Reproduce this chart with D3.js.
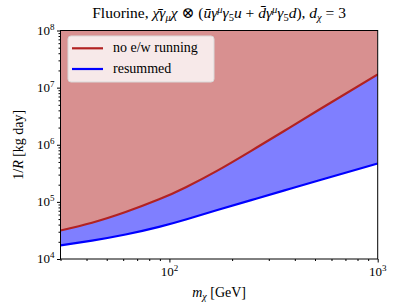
<!DOCTYPE html>
<html><head><meta charset="utf-8">
<script src="https://cdn.jsdelivr.net/npm/d3@7/dist/d3.min.js"></script>
<style>body{margin:0;background:#fff}svg{display:block}text{font-family:"Liberation Serif","DejaVu Serif",serif;fill:#000}</style>
</head><body><svg id="c" width="407" height="305"></svg>
<script>
const mass      = [30, 42.5, 61.6, 89.2, 120, 170, 247, 357, 520, 1000];
const noEW      = [3.16e4, 4.32e4, 6.65e4, 1.107e5, 1.807e5, 3.524e5, 7.816e5, 1.758e6, 4.064e6, 1.706e7];
const resummed  = [1.726e4, 2.099e4, 2.685e4, 3.656e4, 4.92e4, 7.21e4, 1.074e5, 1.589e5, 2.366e5, 4.699e5];
const seriesNames = ["no e/w running", "resummed"];
const xTicks = [100, 1000];
const yTicks = [1e4, 1e5, 1e6, 1e7, 1e8];

const svg = d3.select("#c");
const L = 60.5, R = 377.7, T = 30.5, B = 259;
const x = d3.scaleLog().domain([30, 1000]).range([L, R]);
const y = d3.scaleLog().domain([1e4, 1e8]).range([B, T]);

const pts = mass.map((m, i) => ({m, a: noEW[i], b: resummed[i]}));
const curve = d3.curveNatural;

svg.append("defs").append("clipPath").attr("id","clip").append("rect")
  .attr("x", L).attr("y", T).attr("width", R - L).attr("height", B - T);
const g = svg.append("g").attr("clip-path","url(#clip)");

g.append("path").datum(pts)
  .attr("d", d3.area().x(d => x(d.m)).y0(y(1e8)).y1(d => y(d.a)).curve(curve))
  .attr("fill", "#b22222").attr("fill-opacity", 0.5);
g.append("path").datum(pts)
  .attr("d", d3.area().x(d => x(d.m)).y0(d => y(d.a)).y1(d => y(d.b)).curve(curve))
  .attr("fill", "#0000ff").attr("fill-opacity", 0.5);
g.append("path").datum(pts)
  .attr("d", d3.line().x(d => x(d.m)).y(d => y(d.a)).curve(curve))
  .attr("fill", "none").attr("stroke", "#b22222").attr("stroke-width", 2.2);
g.append("path").datum(pts)
  .attr("d", d3.line().x(d => x(d.m)).y(d => y(d.b)).curve(curve))
  .attr("fill", "none").attr("stroke", "#0000ff").attr("stroke-width", 2.2);

// axes
const sup = (sel, v) => {
  const e = Math.round(Math.log10(v));
  sel.text(null);
  sel.append("tspan").text("10");
  sel.append("tspan").attr("dy", -5).attr("font-size", 9).text(e);
};
const xMinor = [];
for (let e = 1; e < 3; e++) for (let k = 1; k < 10; k++) { const v = k * Math.pow(10, e); if (v >= 30) xMinor.push(v); }
xMinor.push(1000);
const xAxis = d3.axisBottom(x).tickValues(xMinor).tickSize(2).tickFormat("");
const gx = svg.append("g").attr("transform", `translate(0,${B})`).call(xAxis);
gx.selectAll(".tick line").attr("y2", d => xTicks.includes(d) ? 3.5 : 2);
gx.select(".domain").remove();
xTicks.forEach(v => {
  const t = svg.append("text").attr("x", x(v)).attr("y", B + 17).attr("text-anchor","middle")
    .attr("font-size", 13);
  sup(t, v);
});

const yMinor = [];
for (let e = 4; e < 8; e++) for (let k = 1; k < 10; k++) yMinor.push(k * Math.pow(10, e));
yMinor.push(1e8);
const yAxis = d3.axisLeft(y).tickValues(yMinor).tickSize(2).tickFormat("");
const gy = svg.append("g").attr("transform", `translate(${L},0)`).call(yAxis);
gy.selectAll(".tick line").attr("x2", d => yTicks.includes(d) ? -3.5 : -2);
gy.select(".domain").remove();
yTicks.forEach(v => {
  const t = svg.append("text").attr("x", L - 6).attr("y", y(v) + 4).attr("text-anchor","end")
    .attr("font-size", 13);
  sup(t, v);
});

svg.append("rect").attr("x", L).attr("y", T).attr("width", R - L).attr("height", B - T)
  .attr("fill","none").attr("stroke","#000").attr("stroke-width", 1);

// legend
const lg = svg.append("g");
lg.append("rect").attr("x", 68).attr("y", 36).attr("width", 146).attr("height", 46).attr("rx", 3)
  .attr("fill", "#fff").attr("fill-opacity", 0.8).attr("stroke", "#d8d8d8").attr("stroke-width", 1);
const lcol = ["#b22222", "#0000ff"];
seriesNames.forEach((n, i) => {
  const yy = 48.3 + i * 20.7;
  lg.append("line").attr("x1", 72).attr("x2", 103).attr("y1", yy).attr("y2", yy)
    .attr("stroke", lcol[i]).attr("stroke-width", 2.2);
  lg.append("text").attr("x", 113).attr("y", yy + 4).attr("font-size", 14).text(n);
});

// title
const title = svg.append("text").attr("x", (L + R) / 2).attr("y", 18).attr("text-anchor","middle").attr("font-size", 15.5);
const parts = [
  ["Fluorine, ", {}],
  ["χ\u0304", {it:1}], ["γ", {it:1}], ["μ", {it:1, sub:1}], ["χ", {it:1}], [" ⊗ (", {}],
  ["u\u0304", {it:1}], ["γ", {it:1}], ["μ", {it:1, sup:1}], ["γ", {it:1}], ["5", {sub:1}], ["u", {it:1}],
  [" + ", {}],
  ["d\u0304", {it:1}], ["γ", {it:1}], ["μ", {it:1, sup:1}], ["γ", {it:1}], ["5", {sub:1}], ["d", {it:1}],
  ["), ", {}], ["d", {it:1}], ["χ", {it:1, sub:1}], [" = 3", {}]
];
let shift = 0;
parts.forEach(([s, o]) => {
  const ts = title.append("tspan").text(s);
  if (o.it) ts.attr("font-style", "italic");
  let target = o.sub ? 3 : o.sup ? -5 : 0;
  if (target !== shift) { ts.attr("dy", target - shift); shift = target; }
  if (o.sub || o.sup) ts.attr("font-size", 10.5);
});

// axis labels
const xl = svg.append("text").attr("x", (L + R) / 2).attr("y", 297).attr("text-anchor","middle").attr("font-size", 14);
xl.append("tspan").attr("font-style","italic").text("m");
xl.append("tspan").attr("font-style","italic").attr("font-size", 10).attr("dy", 3).text("χ");
xl.append("tspan").attr("dy", -3).text(" [GeV]");

const yl = svg.append("text").attr("transform", `translate(23,${(T + B) / 2}) rotate(-90)`)
  .attr("text-anchor","middle").attr("font-size", 14);
yl.append("tspan").text("1/");
yl.append("tspan").attr("font-style","italic").text("R");
yl.append("tspan").text(" [kg day]");
</script></body></html>
